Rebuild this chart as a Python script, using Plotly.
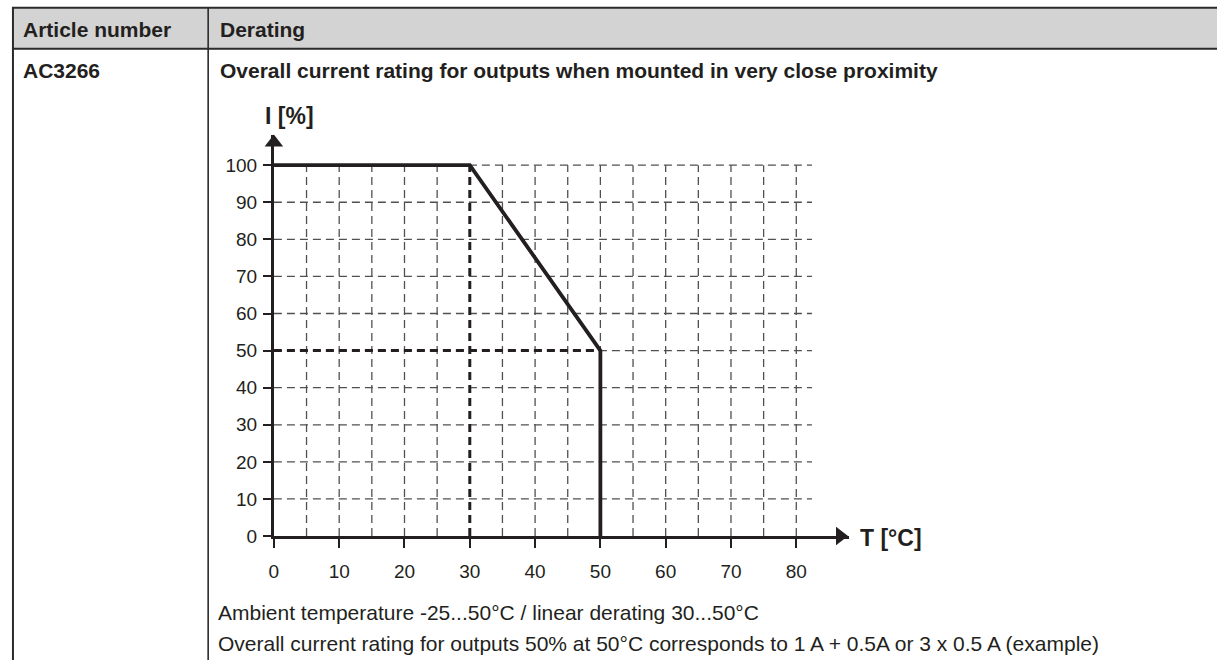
import plotly.graph_objects as go

# derating curve
temp = [0, 30, 50, 50]
current = [100, 100, 50, 0]

# axis ticks and grid
x_ticks = [0, 10, 20, 30, 40, 50, 60, 70, 80]
y_ticks = [0, 10, 20, 30, 40, 50, 60, 70, 80, 90, 100]
x_grid = [5, 10, 15, 20, 25, 30, 35, 40, 45, 50, 55, 60, 65, 70, 75, 80]
y_grid = [10, 20, 30, 40, 50, 60, 70, 80, 90, 100]
grid_x_end = 82.4
grid_y_end = 100

# marker lines for the example point
knee_temp = 30
half_current = 50
end_temp = 50

x_max = 88.0
y_max = 108.2

W, H = 1217, 671
FONT = "Liberation Sans, Arial, sans-serif"
INK = "#231f20"


def px(x):
    return x / W


def py(y):
    return 1 - y / H


fig = go.Figure()

# dashed grid
gx, gy = [], []
for v in y_grid:
    gx += [0, grid_x_end, None]
    gy += [v, v, None]
for v in x_grid:
    gx += [v, v, None]
    gy += [0, grid_y_end, None]
fig.add_trace(go.Scatter(x=gx, y=gy, mode="lines", hoverinfo="skip",
                         line=dict(color="#505050", width=1.3, dash="8px,5px")))

# heavy dashed helper lines
fig.add_trace(go.Scatter(x=[knee_temp, knee_temp, None, 0, end_temp],
                         y=[0, grid_y_end, None, half_current, half_current],
                         mode="lines", hoverinfo="skip",
                         line=dict(color=INK, width=3, dash="8px,5px")))

# curve
fig.add_trace(go.Scatter(x=temp, y=current, mode="lines",
                         line=dict(color=INK, width=3.8)))

# axis arrow heads
fig.add_trace(go.Scatter(x=[x_max - 1.3], y=[0], mode="markers", cliponaxis=False,
                         marker=dict(symbol="triangle-right", size=16, color=INK)))
fig.add_trace(go.Scatter(x=[0], y=[y_max - 2.1], mode="markers", cliponaxis=False,
                         marker=dict(symbol="triangle-up", size=16, color=INK)))

# table
shapes = [
    dict(type="rect", xref="paper", yref="paper", x0=px(7), x1=px(1217), y0=py(7), y1=py(50),
         fillcolor="#d3d3d3", line=dict(width=0), layer="below"),
    dict(type="line", xref="paper", yref="paper", x0=px(7), x1=px(1217), y0=py(8), y1=py(8),
         line=dict(color="#2b2b2b", width=2)),
    dict(type="line", xref="paper", yref="paper", x0=px(7), x1=px(1217), y0=py(49.5), y1=py(49.5),
         line=dict(color="#2b2b2b", width=2)),
    dict(type="line", xref="paper", yref="paper", x0=px(8), x1=px(8), y0=py(7), y1=py(671),
         line=dict(color="#2b2b2b", width=2)),
    dict(type="line", xref="paper", yref="paper", x0=px(204), x1=px(204), y0=py(7), y1=py(671),
         line=dict(color="#2b2b2b", width=1.6)),
]

texts = [
    ("Article number", 16, 30, 21, True),
    ("Derating", 214, 30, 21, True),
    ("AC3266", 16, 72, 21, True),
    ("Overall current rating for outputs when mounted in very close proximity", 214, 72, 21, True),
    ("Ambient temperature -25...50°C / linear derating 30...50°C", 212, 623, 21, False),
    ("Overall current rating for outputs 50% at 50°C corresponds to 1 A + 0.5A or 3 x 0.5 A (example)",
     212, 654, 21, False),
]
annotations = []
for t, x, y, size, bold in texts:
    annotations.append(dict(text="<b>%s</b>" % t if bold else t, x=px(x), y=py(y),
                            xref="paper", yref="paper", xanchor="left", yanchor="middle",
                            showarrow=False, font=dict(size=size, color=INK, family=FONT)))
annotations.append(dict(text="<b>I [%]</b>", x=px(286), y=py(118), xref="paper", yref="paper",
                        xanchor="center", yanchor="middle", showarrow=False,
                        font=dict(size=23, color=INK, family=FONT)))
annotations.append(dict(text="<b>T [°C]</b>", x=px(857), y=py(547), xref="paper", yref="paper",
                        xanchor="left", yanchor="middle", showarrow=False,
                        font=dict(size=23, color=INK, family=FONT)))

fig.update_layout(
    width=W, height=H,
    margin=dict(l=0, r=0, t=0, b=0),
    paper_bgcolor="white", plot_bgcolor="white",
    showlegend=False,
    font=dict(family=FONT, color=INK),
    shapes=shapes,
    annotations=annotations,
    xaxis=dict(domain=[px(270), px(847)], range=[0, x_max], tickvals=x_ticks,
               showgrid=False, zeroline=False, showline=True, linecolor=INK, linewidth=3,
               ticks="outside", ticklen=9, tickwidth=1.5, tickcolor=INK,
               ticklabelstandoff=7, tickfont=dict(size=19, color=INK, family=FONT)),
    yaxis=dict(domain=[py(545), py(137)], range=[0, y_max], tickvals=y_ticks,
               showgrid=False, zeroline=False, showline=True, linecolor=INK, linewidth=3,
               ticks="outside", ticklen=8, tickwidth=1.5, tickcolor=INK,
               ticklabelstandoff=2, tickfont=dict(size=19, color=INK, family=FONT)),
)

# the page body has a default 8px margin; drop it so the figure sits at 0,0
fig.write_html("out.html", config={"displayModeBar": False},
               post_script="document.body.style.margin='0';")
